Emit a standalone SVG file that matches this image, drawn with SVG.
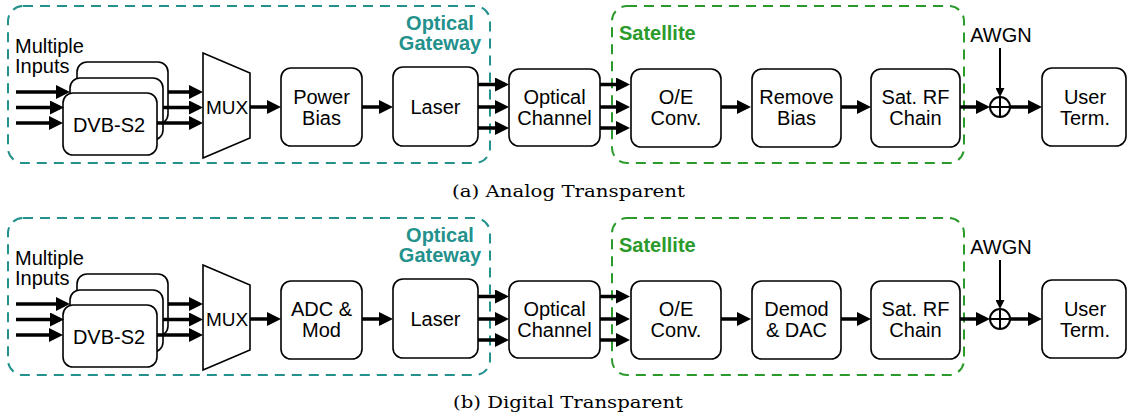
<svg xmlns="http://www.w3.org/2000/svg" width="1127" height="417" viewBox="0 0 1127 417">
<defs>
<style>
.bg{fill:#fff}
.box{fill:#fff;stroke:#000;stroke-width:1.6}
.lbl{font-family:"Liberation Sans",Arial,sans-serif;font-size:20px;fill:#000;text-anchor:middle}
.gw{fill:none;stroke:#23918c;stroke-width:2;stroke-dasharray:10 7}
.sat{fill:none;stroke:#2a9a2a;stroke-width:2;stroke-dasharray:10 7}
.gwt{font-family:"Liberation Sans",Arial,sans-serif;font-size:20px;font-weight:bold;fill:#23918c;text-anchor:middle}
.satt{font-family:"Liberation Sans",Arial,sans-serif;font-size:20px;font-weight:bold;fill:#2a9a2a}
.ar{stroke:#000;stroke-width:3.5;fill:none;marker-end:url(#ah)}
.ars{stroke:#000;stroke-width:2;fill:none;marker-end:url(#ahs)}
.cap{font-family:"DejaVu Serif","Liberation Serif",serif;font-size:17px;fill:#000}
</style>
<marker id="ah" viewBox="0 0 14 14" refX="10" refY="7" markerWidth="14" markerHeight="14" markerUnits="userSpaceOnUse" orient="auto"><path d="M0,0 L14,7 L0,14 z" fill="#000"/></marker>
<marker id="ahs" viewBox="0 0 9 9" refX="6" refY="4.5" markerWidth="9" markerHeight="9" markerUnits="userSpaceOnUse" orient="auto"><path d="M0,0 L9,4.5 L0,9 z" fill="#000"/></marker>
</defs>
<rect class="bg" x="0" y="0" width="1127" height="417"/>

<!-- Panel (a) -->
<g id="panel-a">
  <g id="a-gateway"><rect class="gw" x="8" y="6" width="482" height="157" rx="15"/><text class="gwt" x="440" y="30">Optical</text><text class="gwt" x="440" y="50">Gateway</text></g>
  <g id="a-satellite"><rect class="sat" x="612" y="6" width="352" height="157" rx="15"/><text class="satt" x="619" y="40">Satellite</text></g>
  <g id="a-inputs"><text class="lbl" x="15" y="53" style="text-anchor:start">Multiple</text><text class="lbl" x="15" y="73" style="text-anchor:start">Inputs</text></g>
  <g id="a-dvb">
    <rect class="box" x="77" y="62" width="91" height="62" rx="10"/>
    <rect class="box" x="70" y="78" width="93" height="62" rx="10"/>
    <rect class="box" x="63" y="93" width="94" height="62" rx="10"/>
    <text class="lbl" x="109" y="131.5">DVB-S2</text>
  </g>
  <g id="a-mux"><polygon class="box" points="203,53 250,73 250,138 203,158"/><text class="lbl" x="227" y="114" style="font-size:19px">MUX</text></g>
  <g id="a-bias"><rect class="box" x="281" y="68" width="81" height="78" rx="10"/><text class="lbl" x="321.5" y="103.5">Power</text><text class="lbl" x="321.5" y="124.5">Bias</text></g>
  <g id="a-laser"><rect class="box" x="393" y="67" width="85" height="79" rx="10"/><text class="lbl" x="435.5" y="114">Laser</text></g>
  <g id="a-channel"><rect class="box" x="509" y="69" width="91" height="77" rx="10"/><text class="lbl" x="554.5" y="103.5">Optical</text><text class="lbl" x="554.5" y="124.5">Channel</text></g>
  <g id="a-oe"><rect class="box" x="631" y="69" width="90" height="78" rx="10"/><text class="lbl" x="676" y="103.5">O/E</text><text class="lbl" x="676" y="124.5">Conv.</text></g>
  <g id="a-remove"><rect class="box" x="752" y="69" width="89" height="78" rx="10"/><text class="lbl" x="796.5" y="103.5">Remove</text><text class="lbl" x="796.5" y="124.5">Bias</text></g>
  <g id="a-rf"><rect class="box" x="871" y="69" width="89" height="78" rx="10"/><text class="lbl" x="915.5" y="103.5">Sat. RF</text><text class="lbl" x="915.5" y="124.5">Chain</text></g>
  <g id="a-awgn"><text class="lbl" x="1001" y="42">AWGN</text></g>
  <g id="a-sum"><circle cx="1000" cy="107" r="10" fill="#fff" stroke="#000" stroke-width="2"/><path d="M990,107 H1010 M1000,97 V117" stroke="#000" stroke-width="2"/></g>
  <g id="a-user"><rect class="box" x="1042" y="68" width="84" height="78" rx="10"/><text class="lbl" x="1085" y="103.5">User</text><text class="lbl" x="1085" y="124.5">Term.</text></g>
  <g id="a-connectors">
    <path class="ar" d="M16,92 H66"/>
    <path class="ar" d="M16,107.5 H60"/>
    <path class="ar" d="M16,123 H59"/>
    <path class="ar" d="M168,92 H199"/>
    <path class="ar" d="M163,107.5 H199"/>
    <path class="ar" d="M157,123 H199"/>
    <path class="ar" d="M250,107 H277"/>
    <path class="ar" d="M362,107 H389"/>
    <path class="ar" d="M478,84.5 H505"/>
    <path class="ar" d="M478,107 H505"/>
    <path class="ar" d="M478,128 H505"/>
    <path class="ar" d="M600,84.5 H626"/>
    <path class="ar" d="M600,107 H626"/>
    <path class="ar" d="M600,128 H626"/>
    <path class="ar" d="M721,107 H747"/>
    <path class="ar" d="M841,107 H867"/>
    <path class="ar" d="M960,107 H986"/>
    <path class="ar" d="M1010,107 H1038"/>
    <path class="ars" d="M1000,48 V94"/>
  </g>
  <text class="cap" x="452" y="197" textLength="233" lengthAdjust="spacingAndGlyphs">(a) Analog Transparent</text>
</g>

<!-- Panel (b) -->
<g id="panel-b" transform="translate(0,212)">
  <g id="b-gateway"><rect class="gw" x="8" y="6" width="482" height="157" rx="15"/><text class="gwt" x="440" y="30">Optical</text><text class="gwt" x="440" y="50">Gateway</text></g>
  <g id="b-satellite"><rect class="sat" x="612" y="6" width="352" height="157" rx="15"/><text class="satt" x="619" y="40">Satellite</text></g>
  <g id="b-inputs"><text class="lbl" x="15" y="53" style="text-anchor:start">Multiple</text><text class="lbl" x="15" y="73" style="text-anchor:start">Inputs</text></g>
  <g id="b-dvb">
    <rect class="box" x="77" y="62" width="91" height="62" rx="10"/>
    <rect class="box" x="70" y="78" width="93" height="62" rx="10"/>
    <rect class="box" x="63" y="93" width="94" height="62" rx="10"/>
    <text class="lbl" x="109" y="131.5">DVB-S2</text>
  </g>
  <g id="b-mux"><polygon class="box" points="203,53 250,73 250,138 203,158"/><text class="lbl" x="227" y="114" style="font-size:19px">MUX</text></g>
  <g id="b-adc"><rect class="box" x="281" y="69" width="81" height="78" rx="10"/><text class="lbl" x="321.5" y="103.5">ADC &amp;</text><text class="lbl" x="321.5" y="124.5">Mod</text></g>
  <g id="b-laser"><rect class="box" x="393" y="67" width="85" height="79" rx="10"/><text class="lbl" x="435.5" y="114">Laser</text></g>
  <g id="b-channel"><rect class="box" x="509" y="69" width="91" height="77" rx="10"/><text class="lbl" x="554.5" y="103.5">Optical</text><text class="lbl" x="554.5" y="124.5">Channel</text></g>
  <g id="b-oe"><rect class="box" x="631" y="69" width="90" height="78" rx="10"/><text class="lbl" x="676" y="103.5">O/E</text><text class="lbl" x="676" y="124.5">Conv.</text></g>
  <g id="b-demod"><rect class="box" x="752" y="69" width="89" height="78" rx="10"/><text class="lbl" x="796.5" y="103.5">Demod</text><text class="lbl" x="796.5" y="124.5">&amp; DAC</text></g>
  <g id="b-rf"><rect class="box" x="871" y="69" width="89" height="78" rx="10"/><text class="lbl" x="915.5" y="103.5">Sat. RF</text><text class="lbl" x="915.5" y="124.5">Chain</text></g>
  <g id="b-awgn"><text class="lbl" x="1001" y="42">AWGN</text></g>
  <g id="b-sum"><circle cx="1000" cy="107" r="10" fill="#fff" stroke="#000" stroke-width="2"/><path d="M990,107 H1010 M1000,97 V117" stroke="#000" stroke-width="2"/></g>
  <g id="b-user"><rect class="box" x="1042" y="68" width="84" height="78" rx="10"/><text class="lbl" x="1085" y="103.5">User</text><text class="lbl" x="1085" y="124.5">Term.</text></g>
  <g id="b-connectors">
    <path class="ar" d="M16,92 H66"/>
    <path class="ar" d="M16,107.5 H60"/>
    <path class="ar" d="M16,123 H59"/>
    <path class="ar" d="M168,92 H199"/>
    <path class="ar" d="M163,107.5 H199"/>
    <path class="ar" d="M157,123 H199"/>
    <path class="ar" d="M250,107 H277"/>
    <path class="ar" d="M362,107 H389"/>
    <path class="ar" d="M478,84.5 H505"/>
    <path class="ar" d="M478,107 H505"/>
    <path class="ar" d="M478,128 H505"/>
    <path class="ar" d="M600,84.5 H626"/>
    <path class="ar" d="M600,107 H626"/>
    <path class="ar" d="M600,128 H626"/>
    <path class="ar" d="M721,107 H747"/>
    <path class="ar" d="M841,107 H867"/>
    <path class="ar" d="M960,107 H986"/>
    <path class="ar" d="M1010,107 H1038"/>
    <path class="ars" d="M1000,48 V94"/>
  </g>
  <text class="cap" x="453" y="196" textLength="230" lengthAdjust="spacingAndGlyphs">(b) Digital Transparent</text>
</g>
</svg>
